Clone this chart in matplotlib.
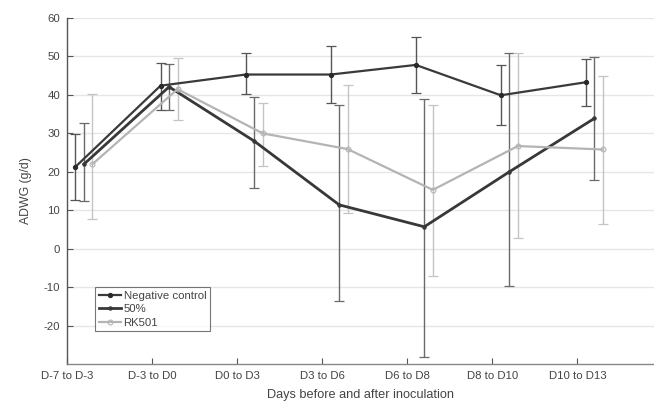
import matplotlib
matplotlib.use("Agg")
import matplotlib.pyplot as plt
import numpy as np

plt.rcParams['font.family'] = ['Liberation Sans', 'DejaVu Sans']
plt.rcParams['axes.unicode_minus'] = False

periods = ["D-7 to D-3", "D-3 to D0", "D0 to D3", "D3 to D6",
           "D6 to D8", "D8 to D10", "D10 to D13"]

neg_mean = [21.3, 42.4, 45.3, 45.3, 47.8, 39.9, 43.3]
neg_upper = [29.8, 48.2, 51.0, 52.7, 55.0, 47.7, 49.4]
neg_lower = [12.7, 36.2, 40.2, 38.0, 40.6, 32.2, 37.0]

half_mean = [22.0, 42.1, 28.0, 11.4, 5.7, 20.0, 33.9]
half_upper = [32.7, 48.0, 39.5, 37.5, 39.0, 50.8, 49.8]
half_lower = [12.3, 36.0, 15.8, -13.7, -28.2, -9.8, 17.9]

rk_mean = [22.0, 41.5, 30.0, 25.9, 15.3, 26.7, 25.8]
rk_upper = [40.2, 49.5, 37.8, 42.5, 37.5, 51.0, 45.0]
rk_lower = [7.8, 33.5, 21.5, 9.3, -7.2, 2.8, 6.5]

fig = plt.figure(figsize=(6.54, 4.05), dpi=100)
ax = fig.add_axes([0.1024, 0.1012, 0.8976, 0.8543])

x = np.arange(len(periods))

series = [
    ("Negative control", neg_mean, neg_upper, neg_lower, 0.1,
     dict(color="#3a3a3a", lw=1.6, marker="o", ms=2.8, mfc="#2a2a2a", mec="#2a2a2a"),
     "#555555"),
    ("50%", half_mean, half_upper, half_lower, 0.2,
     dict(color="#383838", lw=2.0, marker="o", ms=2.2, mfc="#383838", mec="#383838"),
     "#6a6a6a"),
    ("RK501", rk_mean, rk_upper, rk_lower, 0.3,
     dict(color="#b4b4b4", lw=1.6, marker="o", ms=3.5, mfc="none", mec="#b4b4b4", mew=0.8),
     "#c4c4c4"),
]

for label, mean, up, lo, off, style, ecol in series:
    mean = np.array(mean)
    yerr = np.vstack([mean - np.array(lo), np.array(up) - mean])
    ax.errorbar(x + off, mean, yerr=yerr, fmt="none", ecolor=ecol,
                elinewidth=1.0, capsize=3.5, capthick=0.9, zorder=2)
    ax.plot(x + off, mean, label=label, zorder=3, **style)

ax.set_xlim(0, 6.9)
ax.set_ylim(-30, 60)
ax.set_yticks(np.arange(-20, 61, 10))
ax.set_xticks(x)
ax.set_xticklabels(periods)

for yv in np.arange(-20, 61, 10):
    ax.axhline(yv, color="#e6e6e6", lw=1.0, zorder=0)

for side in ("top", "right"):
    ax.spines[side].set_visible(False)
ax.spines["left"].set_color("#555555")
ax.spines["bottom"].set_color("#888888")
ax.spines["left"].set_linewidth(1.0)
ax.spines["bottom"].set_linewidth(1.0)

ax.tick_params(axis="both", direction="in", labelsize=8.2, colors="#555555",
               labelcolor="#444444", length=4, width=0.8)
ax.tick_params(axis="x", pad=5)
ax.tick_params(axis="y", pad=5)

ax.set_ylabel("ADWG (g/d)", fontsize=8.8, color="#444444", labelpad=8)
ax.set_xlabel("Days before and after inoculation", fontsize=9.2, color="#444444",
              labelpad=6)

leg = ax.legend(loc="lower left", bbox_to_anchor=(0.048, 0.095), fontsize=8.2,
                frameon=True, fancybox=False, handlelength=2.0,
                handletextpad=0.2, borderpad=0.3, labelspacing=0.3,
                borderaxespad=0)
leg.get_frame().set_edgecolor("#555555")
leg.get_frame().set_linewidth(0.8)
for t in leg.get_texts():
    t.set_color("#444444")

fig.savefig("out.png", dpi=100)
